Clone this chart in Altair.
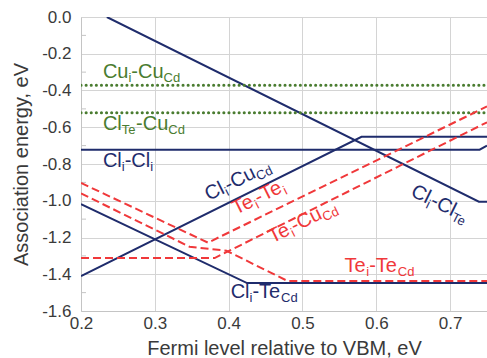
import altair as alt
import pandas as pd

NAVY = "#1f2c6c"
RED = "#f0383a"
GREEN = "#4a7c30"
FONT = "Liberation Sans"

# ---- series (Fermi level, association energy) ----
cl_cl_te_x = [0.235, 0.739, 0.75]
cl_cl_te_y = [0.0, -1.005, -1.005]
cl_cl_i_x = [0.2, 0.74, 0.75]
cl_cl_i_y = [-0.722, -0.722, -0.70]
cl_cu_cd_x = [0.2, 0.58, 0.75]
cl_cu_cd_y = [-1.41, -0.652, -0.652]
cl_te_cd_x = [0.2, 0.425, 0.75]
cl_te_cd_y = [-1.018, -1.448, -1.448]

te_te_i_x = [0.2, 0.372, 0.75]
te_te_i_y = [-0.903, -1.228, -0.487]
te_cu_cd_x = [0.2, 0.381, 0.75]
te_cu_cd_y = [-1.312, -1.312, -0.573]
te_te_cd_x = [0.2, 0.347, 0.397, 0.48, 0.75]
te_te_cd_y = [-0.96, -1.25, -1.272, -1.437, -1.437]

cu_cu_x = [0.2, 0.75]
cu_cu_y = [-0.372, -0.372]
clte_cu_x = [0.2, 0.75]
clte_cu_y = [-0.521, -0.521]

x_ticks = [0.2, 0.3, 0.4, 0.5, 0.6, 0.7]
y_ticks = [-1.6, -1.4, -1.2, -1.0, -0.8, -0.6, -0.4, -0.2, 0.0]
y_minor = [-0.1, -0.3, -0.5, -0.7, -0.9, -1.1, -1.3, -1.5]


def frame(name, xs, ys):
    return pd.DataFrame({"series": name, "x": xs, "y": ys, "i": list(range(len(xs)))})


navy_df = pd.concat([
    frame("Cli-ClTe", cl_cl_te_x, cl_cl_te_y),
    frame("Cli-Cli", cl_cl_i_x, cl_cl_i_y),
    frame("Cli-CuCd", cl_cu_cd_x, cl_cu_cd_y),
    frame("Cli-TeCd", cl_te_cd_x, cl_te_cd_y),
])
red_df = pd.concat([
    frame("Tei-Tei", te_te_i_x, te_te_i_y),
    frame("Tei-CuCd", te_cu_cd_x, te_cu_cd_y),
    frame("Tei-TeCd", te_te_cd_x, te_te_cd_y),
])
green_df = pd.concat([
    frame("Cui-CuCd", cu_cu_x, cu_cu_y),
    frame("ClTe-CuCd", clte_cu_x, clte_cu_y),
])

# ---- labels: anchor (data coords), rotation, colour, text parts (text, is_subscript) ----
labels = [
    (0.2297, -0.332, 0, GREEN, [("Cu", 0), ("i", 1), ("-Cu", 0), ("Cd", 1)]),
    (0.2297, -0.615, 0, GREEN, [("Cl", 0), ("Te", 1), ("-Cu", 0), ("Cd", 1)]),
    (0.2297, -0.816, 0, NAVY, [("Cl", 0), ("i", 1), ("-Cl", 0), ("i", 1)]),
    (0.373, -1.002, 333.6, NAVY, [("Cl", 0), ("i", 1), ("-Cu", 0), ("Cd", 1)]),
    (0.410, -1.078, 333.6, RED, [("Te", 0), ("i", 1), ("-Te", 0), ("i", 1)]),
    (0.459, -1.232, 333.6, RED, [("Te", 0), ("i", 1), ("-Cu", 0), ("Cd", 1)]),
    (0.6455, -0.971, 26.4, NAVY, [("Cl", 0), ("i", 1), ("-Cl", 0), ("Te", 1)]),
    (0.5568, -1.386, 0, RED, [("Te", 0), ("i", 1), ("-Te", 0), ("Cd", 1)]),
    (0.4027, -1.529, 0, NAVY, [("Cl", 0), ("i", 1), ("-Te", 0), ("Cd", 1)]),
]

MAIN_FS = 20
SUB_FS = 13
SUB_DY = 4
WIDTHS = {"C": 0.722, "u": 0.556, "l": 0.222, "i": 0.222, "-": 0.333,
          "T": 0.611, "e": 0.556, "d": 0.556}


def text_width(s, fs):
    w = sum(WIDTHS.get(c, 0.55) for c in s)
    if "Te" in s:
        w -= 0.07  # T-e kerning
    return w * fs


xscale = alt.Scale(domain=[0.2, 0.75], nice=False, zero=False)
yscale = alt.Scale(domain=[-1.6, 0.0], nice=False, zero=False)

xaxis = alt.Axis(values=x_ticks, format=".1f", title="Fermi level relative to VBM, eV",
                 labelPadding=4, titlePadding=7, tickCount=30)
yaxis = alt.Axis(values=y_ticks, title="Association energy, eV",
                 labelExpr="replace(format(datum.value, '.1f'), '\u2212', '-')",
                 labelPadding=10, titlePadding=10, tickCount=30)

base_grid = alt.Chart(pd.DataFrame({"y": y_minor})).mark_rule(color="#c4c4c4", strokeWidth=1).encode(
    x=alt.value(0), x2=alt.value(5), y=alt.Y("y:Q", scale=yscale)
)

navy = alt.Chart(navy_df).mark_line(color=NAVY, strokeWidth=2, clip=True).encode(
    x=alt.X("x:Q", scale=xscale, axis=xaxis), y=alt.Y("y:Q", scale=yscale, axis=yaxis),
    detail="series:N", order="i:Q")
red = alt.Chart(red_df).mark_line(color=RED, strokeWidth=2, strokeDash=[8, 4], clip=True).encode(
    x=alt.X("x:Q", scale=xscale), y=alt.Y("y:Q", scale=yscale),
    detail="series:N", order="i:Q")
green = alt.Chart(green_df).mark_line(color=GREEN, strokeWidth=3, strokeDash=[0.1, 5],
                                      strokeCap="round", clip=True).encode(
    x=alt.X("x:Q", scale=xscale), y=alt.Y("y:Q", scale=yscale),
    detail="series:N", order="i:Q")

layers = [navy, base_grid, green, red]
for lx, ly, ang, col, parts in labels:
    dx = 0.0
    for txt, sub in parts:
        fs = SUB_FS if sub else MAIN_FS
        mk = alt.Chart(pd.DataFrame({"x": [lx], "y": [ly], "t": [txt]})).mark_text(
            align="left", baseline="alphabetic", dx=round(dx, 2), dy=SUB_DY if sub else 0,
            angle=ang, fontSize=fs, color=col, font=FONT
        ).encode(x=alt.X("x:Q", scale=xscale), y=alt.Y("y:Q", scale=yscale), text="t:N")
        layers.append(mk)
        dx += text_width(txt, fs)

chart = alt.layer(*layers).properties(
    width=406, height=294,
    autosize=alt.AutoSizeParams(type="none"),
    padding={"left": 81, "top": 17, "right": 0, "bottom": 47},
).configure_view(stroke="#c4c4c4").configure(background="white").configure_axis(
    grid=True, gridColor="#d4d4d4", domainColor="#c4c4c4", ticks=False,
    labelFontSize=17, titleFontSize=20, labelColor="#3a3a3a", titleColor="#3a3a3a",
    labelFont=FONT, titleFont=FONT, titleFontWeight="normal", labelFlush=False,
    labelOverlap=False, labelBound=False,
)

chart.save("out.html", embed_options={"renderer": "svg", "actions": False})
